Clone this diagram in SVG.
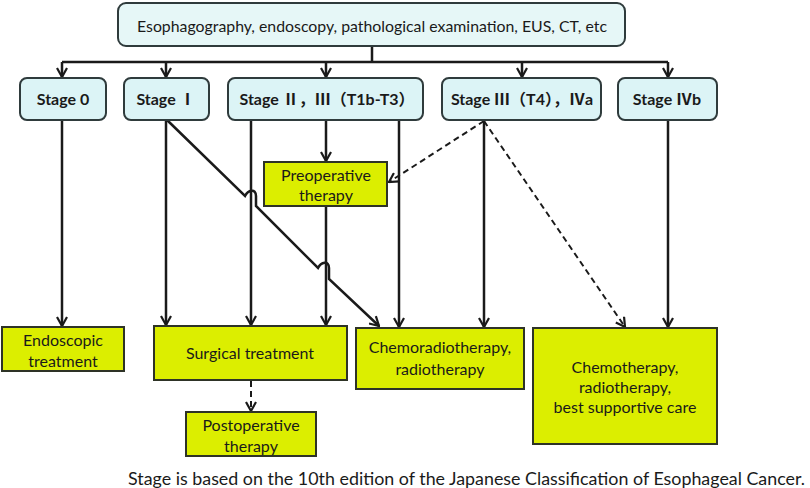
<svg xmlns="http://www.w3.org/2000/svg" width="810" height="488" viewBox="0 0 810 488">
<style>
.stage{fill:#dcf4f6;stroke:#2f3b3c;stroke-width:2}
.top{fill:#e6f7f7;stroke:#2f3b3c;stroke-width:2}
.tx{fill:#dcee00;stroke:#2e3326;stroke-width:2}
text{font-family:Lato,"Noto Sans","Noto Sans CJK JP",sans-serif;fill:#1a1a1a;text-anchor:middle}
.st{font-size:16px;font-weight:bold}
.bd{font-size:16px}
.ln{fill:none;stroke:#1a1a1a;stroke-width:2.5}
.ds{stroke-dasharray:6,4;stroke-width:2}
.ah{fill:none;stroke:#1a1a1a;stroke-width:2.2}
</style>
<defs>
<marker id="arr" viewBox="0 0 12 12" refX="11" refY="6" markerWidth="12" markerHeight="12" markerUnits="userSpaceOnUse" orient="auto">
<path class="ah" d="M2,1 L11,6 L2,11"/>
</marker>
</defs>
<g id="connectors">
<path class="ln" d="M372,46 V62 M62,62 H668"/>
<path class="ln" d="M62,62 V77" marker-end="url(#arr)"/>
<path class="ln" d="M166,62 V77" marker-end="url(#arr)"/>
<path class="ln" d="M326,62 V77" marker-end="url(#arr)"/>
<path class="ln" d="M522,62 V77" marker-end="url(#arr)"/>
<path class="ln" d="M668,62 V77" marker-end="url(#arr)"/>
<path class="ln" d="M62,120 V326" marker-end="url(#arr)"/>
<path class="ln" d="M166,120 V325" marker-end="url(#arr)"/>
<path class="ln" d="M167,120 L245,196 C248,190 256,188 256,196 L256,206 L318,268 C321,262 329,260 329,268 L329,279 L379,326" marker-end="url(#arr)"/>
<path class="ln" d="M251,120 V325" marker-end="url(#arr)"/>
<path class="ln" d="M326,120 V161" marker-end="url(#arr)"/>
<path class="ln" d="M326,206 V325" marker-end="url(#arr)"/>
<path class="ln" d="M399,120 V327" marker-end="url(#arr)"/>
<path class="ln" d="M484,121 V327" marker-end="url(#arr)"/>
<path class="ln ds" d="M484,121 L389,182" marker-end="url(#arr)"/>
<path class="ln ds" d="M484,121 L625,327" marker-end="url(#arr)"/>
<path class="ln" d="M668,120 V327" marker-end="url(#arr)"/>
<path class="ln ds" d="M251,381 V411" marker-end="url(#arr)"/>
</g>
<g id="top-node">
<rect class="top" x="118" y="3" width="507" height="43" rx="8"/>
<text class="bd" x="372" y="32" textLength="470" lengthAdjust="spacingAndGlyphs">Esophagography, endoscopy, pathological examination, EUS, CT, etc</text>
</g>
<g id="stage0">
<rect class="stage" x="20" y="78" width="86" height="42" rx="7"/>
<text class="st" x="63" y="105">Stage 0</text>
</g>
<g id="stage1">
<rect class="stage" x="124" y="78" width="85" height="42" rx="7"/>
<text class="st" x="166" y="105">Stage  Ⅰ</text>
</g>
<g id="stage2-3">
<rect class="stage" x="228" y="78" width="195" height="42" rx="7"/>
<text class="st" x="327" y="105">Stage Ⅱ，Ⅲ（T1b-T3）</text>
</g>
<g id="stage3-4a">
<rect class="stage" x="442" y="78" width="159" height="42" rx="7"/>
<text class="st" x="522" y="105">Stage Ⅲ（T4），Ⅳa</text>
</g>
<g id="stage4b">
<rect class="stage" x="618" y="78" width="99" height="42" rx="7"/>
<text class="st" x="667" y="105">Stage Ⅳb</text>
</g>
<g id="preop">
<rect class="tx" x="264" y="162" width="123" height="44"/>
<text class="bd" x="326" y="181">Preoperative</text>
<text class="bd" x="326" y="201">therapy</text>
</g>
<g id="endoscopic">
<rect class="tx" x="2" y="327" width="122" height="44"/>
<text class="bd" x="63" y="346">Endoscopic</text>
<text class="bd" x="63" y="367">treatment</text>
</g>
<g id="surgical">
<rect class="tx" x="154" y="326" width="193" height="54"/>
<text class="bd" x="250" y="359">Surgical treatment</text>
</g>
<g id="chemoradio">
<rect class="tx" x="356" y="328" width="168" height="61"/>
<text class="bd" x="440" y="353">Chemoradiotherapy,</text>
<text class="bd" x="440" y="375">radiotherapy</text>
</g>
<g id="chemo">
<rect class="tx" x="533" y="328" width="184" height="116"/>
<text class="bd" x="625" y="373">Chemotherapy,</text>
<text class="bd" x="625" y="393">radiotherapy,</text>
<text class="bd" x="625" y="413">best supportive care</text>
</g>
<g id="postop">
<rect class="tx" x="186" y="412" width="130" height="44"/>
<text class="bd" x="251" y="431">Postoperative</text>
<text class="bd" x="251" y="452">therapy</text>
</g>
<text x="128" y="485" style="font-size:18px;text-anchor:start" textLength="677" lengthAdjust="spacingAndGlyphs">Stage is based on the 10th edition of the Japanese Classification of Esophageal Cancer.</text>
</svg>
